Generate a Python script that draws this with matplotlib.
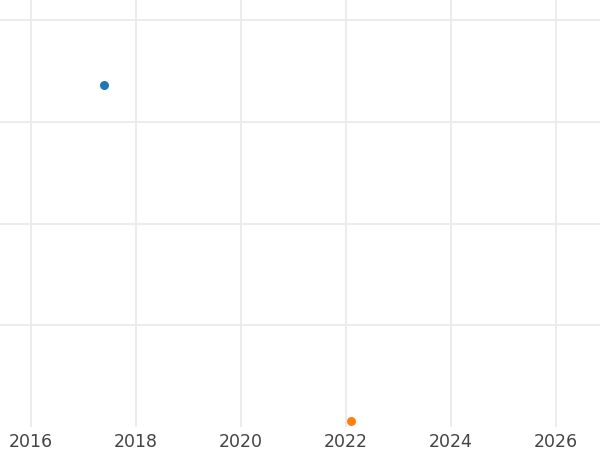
import matplotlib
matplotlib.use("Agg")
import matplotlib.pyplot as plt

series_names = ["A", "B"]
x_years = [2017.40, 2022.10]
y_values = [3.36, 0.06]
colors = ["#1f77b4", "#ff7f0e"]
x_ticks = [2016, 2018, 2020, 2022, 2024, 2026]
y_ticks = [1, 2, 3, 4]

fig = plt.figure(figsize=(6, 4.5), dpi=100)
ax = fig.add_axes([0, 23/450, 1, 427/450])
for name, x, y, c in zip(series_names, x_years, y_values, colors):
    ax.scatter([x], [y], s=42, color=c, zorder=3, linewidths=0)
ax.set_xlim(2015.41, 2026.84)
ax.set_ylim(0, 4.2)
ax.set_xticks(x_ticks)
ax.set_yticks(y_ticks)
ax.set_yticklabels([])
ax.grid(True, color="#ebebeb", linewidth=1.3)
ax.set_axisbelow(True)
for s in ax.spines.values():
    s.set_visible(False)
ax.tick_params(axis="both", length=0, labelsize=12.5, labelcolor="#444444", pad=4)
ax.tick_params(axis="y", labelleft=False)
fig.savefig("out.png", dpi=100)
